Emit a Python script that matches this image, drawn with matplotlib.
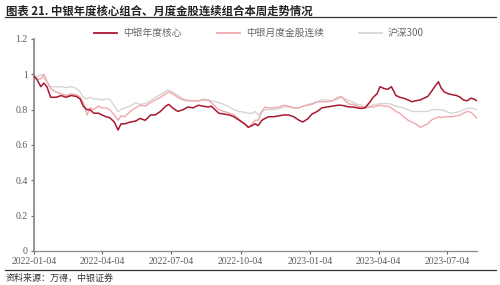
import matplotlib
matplotlib.use("Agg")
import matplotlib.pyplot as plt
from matplotlib.lines import Line2D
import pandas as pd

plt.rcParams['font.family'] = ['Noto Sans CJK SC', 'DejaVu Sans']

dates = ["2022-01-04","2022-01-08","2022-01-13","2022-01-17","2022-01-21","2022-01-26","2022-02-02","2022-02-09",
         "2022-02-15","2022-02-22","2022-03-01","2022-03-06","2022-03-10","2022-03-15","2022-03-19","2022-03-24",
         "2022-03-30","2022-04-04","2022-04-09","2022-04-14","2022-04-20","2022-04-25","2022-04-29","2022-05-04",
         "2022-05-11","2022-05-18","2022-05-24","2022-05-31","2022-06-07","2022-06-13","2022-06-20","2022-06-27",
         "2022-07-01","2022-07-06","2022-07-13","2022-07-20","2022-07-26","2022-08-02","2022-08-09","2022-08-15",
         "2022-08-22","2022-08-26","2022-08-31","2022-09-05","2022-09-12","2022-09-19","2022-09-25","2022-10-02",
         "2022-10-09","2022-10-14","2022-10-19","2022-10-23","2022-10-27","2022-11-01","2022-11-05","2022-11-10",
         "2022-11-17","2022-11-23","2022-11-30","2022-12-06","2022-12-13","2022-12-20","2022-12-25","2023-01-01",
         "2023-01-06","2023-01-13","2023-01-19","2023-01-26","2023-02-02","2023-02-09","2023-02-14","2023-02-19",
         "2023-02-25","2023-03-02","2023-03-07","2023-03-12","2023-03-17","2023-03-23","2023-03-28","2023-04-02",
         "2023-04-06","2023-04-11","2023-04-16","2023-04-21","2023-04-27","2023-05-02","2023-05-07","2023-05-13",
         "2023-05-18","2023-05-23","2023-05-29","2023-06-03","2023-06-08","2023-06-14","2023-06-18","2023-06-22",
         "2023-06-26","2023-06-30","2023-07-05","2023-07-10","2023-07-16","2023-07-21","2023-07-25","2023-07-30",
         "2023-08-04","2023-08-08","2023-08-12"]

core = [0.99,0.97,0.93,0.95,0.93,0.87,0.87,0.88,
        0.87,0.88,0.875,0.86,0.82,0.80,0.80,0.78,
        0.78,0.77,0.76,0.755,0.73,0.685,0.72,0.72,
        0.73,0.735,0.75,0.74,0.77,0.77,0.79,0.82,
        0.83,0.81,0.79,0.80,0.815,0.81,0.825,0.82,
        0.815,0.82,0.80,0.78,0.775,0.77,0.76,0.74,
        0.72,0.70,0.71,0.72,0.71,0.74,0.75,0.76,
        0.76,0.765,0.77,0.77,0.76,0.74,0.73,0.75,
        0.775,0.79,0.81,0.815,0.82,0.825,0.825,0.82,
        0.815,0.815,0.81,0.807,0.81,0.84,0.87,0.89,
        0.93,0.92,0.915,0.93,0.88,0.87,0.865,0.855,
        0.845,0.85,0.855,0.865,0.875,0.91,0.935,0.958,
        0.92,0.90,0.89,0.885,0.88,0.87,0.855,0.85,
        0.865,0.86,0.85]

monthly = [0.99,0.97,0.975,1.0,0.96,0.92,0.90,0.89,
           0.88,0.89,0.885,0.87,0.84,0.77,0.81,0.80,
           0.82,0.81,0.81,0.80,0.77,0.74,0.765,0.76,
           0.79,0.81,0.825,0.82,0.84,0.855,0.87,0.89,
           0.90,0.89,0.87,0.855,0.85,0.85,0.85,0.855,
           0.855,0.84,0.82,0.80,0.79,0.78,0.77,0.745,
           0.72,0.70,0.72,0.74,0.74,0.79,0.815,0.81,
           0.81,0.815,0.825,0.82,0.81,0.81,0.82,0.825,
           0.83,0.845,0.845,0.845,0.85,0.87,0.873,0.85,
           0.83,0.83,0.82,0.816,0.81,0.815,0.815,0.82,
           0.826,0.82,0.82,0.81,0.79,0.78,0.76,0.74,
           0.73,0.72,0.70,0.71,0.72,0.745,0.75,0.76,
           0.755,0.76,0.76,0.76,0.765,0.77,0.78,0.79,
           0.785,0.77,0.75]

hs300 = [0.99,0.985,1.0,0.98,0.96,0.93,0.93,0.93,
         0.925,0.93,0.92,0.90,0.87,0.86,0.87,0.86,
         0.86,0.855,0.86,0.86,0.82,0.79,0.80,0.81,
         0.82,0.84,0.83,0.835,0.85,0.87,0.885,0.905,
         0.91,0.90,0.88,0.86,0.855,0.85,0.85,0.86,
         0.855,0.85,0.845,0.84,0.83,0.815,0.80,0.79,
         0.785,0.78,0.78,0.79,0.77,0.79,0.80,0.80,
         0.80,0.805,0.815,0.815,0.81,0.81,0.82,0.83,
         0.835,0.845,0.855,0.855,0.85,0.86,0.873,0.86,
         0.85,0.84,0.83,0.826,0.815,0.82,0.826,0.83,
         0.835,0.835,0.835,0.83,0.82,0.815,0.81,0.80,
         0.79,0.79,0.79,0.79,0.79,0.80,0.80,0.80,
         0.80,0.795,0.785,0.78,0.785,0.79,0.80,0.805,
         0.81,0.805,0.80]

labels = ["中银年度核心", "中银月度金股连续", "沪深300"]
colors = ["#A8182F", "#F0A8AE", "#D6D6D6"]
yticks = [0, 0.2, 0.4, 0.6, 0.8, 1.0, 1.2]
ytick_labels = ["0", "0.2", "0.4", "0.6", "0.8", "1", "1.2"]
xtick_dates = ["2022-01-04", "2022-04-04", "2022-07-04", "2022-10-04", "2023-01-04", "2023-04-04", "2023-07-04"]

x = pd.to_datetime(dates)

fig = plt.figure(figsize=(5.0, 2.85), dpi=100)
ax = fig.add_axes([34/500, (285-251)/285, (477-34)/500, (251-39)/285])

ax.plot(x, hs300, color=colors[2], lw=1.0, zorder=2)
ax.plot(x, monthly, color=colors[1], lw=1.0, zorder=3)
ax.plot(x, core, color=colors[0], lw=1.1, zorder=4)

ax.set_ylim(0, 1.2)
ax.set_xlim(pd.Timestamp("2022-01-04"), pd.Timestamp("2023-08-12"))
ax.set_yticks(yticks)
ax.set_yticklabels(ytick_labels)
ax.set_xticks(pd.to_datetime(xtick_dates))
ax.set_xticklabels(xtick_dates)

for s in ["top", "right"]:
    ax.spines[s].set_visible(False)
ax.spines["left"].set_color("#8C8C8C")
ax.spines["left"].set_linewidth(1.3)
ax.spines["bottom"].set_color("#8C8C8C")
ax.spines["bottom"].set_linewidth(0.9)
ax.tick_params(axis="both", direction="out", length=2.5, width=0.8, color="#666666",
               labelsize=7, labelcolor="#5A5A5A", pad=2)
for lab in ax.get_xticklabels() + ax.get_yticklabels():
    lab.set_family("Liberation Serif")

handles = [Line2D([], [], color=c, lw=1.3) for c in colors]
fig.legend(handles, labels, loc="center left", bbox_to_anchor=(94/500, 1 - 33/285),
           ncol=3, frameon=False, fontsize=7, handlelength=2.4, handletextpad=0.6,
           columnspacing=3.6, borderpad=0, borderaxespad=0, labelcolor="#666666")

fig.text(6/500, 1 - 11/285, "图表 21. 中银年度核心组合、月度金股连续组合本周走势情况",
         fontsize=8.2, fontweight="bold", color="#222222", va="center", ha="left")
fig.add_artist(Line2D([5/500, 496/500], [1 - 17/285, 1 - 17/285], color="#333333", lw=0.9))
fig.add_artist(Line2D([5/500, 496/500], [1 - 270/285, 1 - 270/285], color="#333333", lw=0.9))
fig.text(6/500, 1 - 278/285, "资料来源：万得，中银证券", fontsize=6.5, color="#333333",
         va="center", ha="left", style="italic")

fig.savefig("out.png", dpi=100)
